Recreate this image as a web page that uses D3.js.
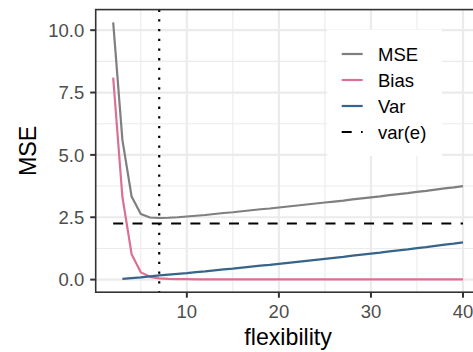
<!DOCTYPE html>
<html><head><meta charset="utf-8">
<script src="https://cdn.jsdelivr.net/npm/d3@7"></script>
<style>
body{margin:0;background:#fff}
text{font-family:"Liberation Sans",Arial,sans-serif}
</style>
</head><body>
<svg id="c" width="473" height="352"></svg>
<script>
const flexibility = [2,3,4,5,6,7,8,9,10,11,12,13,14,15,16,17,18,19,20,21,22,23,24,25,26,27,28,29,30,31,32,33,34,35,36,37,38,39,40];
const mse = [10.31,5.60,3.33,2.63,2.49,2.47,2.48,2.50,2.53,2.56,2.59,2.63,2.67,2.70,2.74,2.78,2.82,2.85,2.89,2.93,2.97,3.01,3.05,3.09,3.13,3.17,3.22,3.26,3.30,3.34,3.39,3.43,3.47,3.52,3.56,3.61,3.66,3.70,3.75];
const bias = [8.10,3.32,1.02,0.29,0.11,0.05,0.03,0.02,0.02,0.01,0.01,0.01,0.01,0.01,0.01,0.01,0.01,0.01,0.01,0.01,0.01,0.01,0.01,0.01,0.01,0.01,0.01,0.01,0.01,0.01,0.01,0.01,0.01,0.01,0.01,0.01,0.01,0.01,0.01];
const variance = [null,0.03,0.06,0.09,0.13,0.17,0.20,0.23,0.26,0.30,0.33,0.37,0.41,0.44,0.48,0.52,0.56,0.59,0.63,0.67,0.71,0.75,0.79,0.83,0.87,0.91,0.96,1.00,1.04,1.08,1.13,1.17,1.21,1.26,1.30,1.35,1.40,1.44,1.49];
const varE = 2.25;
const bestFlex = 7;
const xTicks = [10,20,30,40];
const xMinor = [5,15,25,35];
const yTicks = [0,2.5,5,7.5,10];
const yMinor = [1.25,3.75,6.25,8.75];
const yTickLabels = ["0.0","2.5","5.0","7.5","10.0"];
const seriesNames = ["MSE","Bias","Var","var(e)"];
const seriesColors = ["#7f7f7f","#DB7093","#36648B","#000000"];

const svg = d3.select("#c");
const P = {l:95.7, r:480.5, t:9.6, b:292.2};
const lw = 2.2;

const xExt = d3.extent(flexibility);
const xPad = (xExt[1]-xExt[0])*0.05;
const x = d3.scaleLinear().domain([xExt[0]-xPad, xExt[1]+xPad]).range([P.l, P.r]);
const allY = mse.concat(bias, variance.filter(v=>v!=null));
const yExt = d3.extent(allY);
const yPad = (yExt[1]-yExt[0])*0.05;
const y = d3.scaleLinear().domain([yExt[0]-yPad, yExt[1]+yPad]).range([P.b, P.t]);

svg.append("rect").attr("width",473).attr("height",352).attr("fill","#fff");
svg.append("defs").append("clipPath").attr("id","pc").append("rect")
  .attr("x",P.l).attr("y",P.t).attr("width",P.r-P.l).attr("height",P.b-P.t);

const g = svg.append("g").attr("clip-path","url(#pc)");
// grid
g.selectAll(".xm").data(xMinor).enter().append("line")
  .attr("x1",d=>x(d)).attr("x2",d=>x(d)).attr("y1",P.t).attr("y2",P.b)
  .attr("stroke","#ebebeb").attr("stroke-width",1.1);
g.selectAll(".ym").data(yMinor).enter().append("line")
  .attr("y1",d=>y(d)).attr("y2",d=>y(d)).attr("x1",P.l).attr("x2",P.r)
  .attr("stroke","#ebebeb").attr("stroke-width",1.1);
g.selectAll(".xM").data(xTicks).enter().append("line")
  .attr("x1",d=>x(d)).attr("x2",d=>x(d)).attr("y1",P.t).attr("y2",P.b)
  .attr("stroke","#ebebeb").attr("stroke-width",2.2);
g.selectAll(".yM").data(yTicks).enter().append("line")
  .attr("y1",d=>y(d)).attr("y2",d=>y(d)).attr("x1",P.l).attr("x2",P.r)
  .attr("stroke","#ebebeb").attr("stroke-width",2.2);

const series = [mse, bias, variance];
series.forEach((s,i)=>{
  const line = d3.line().defined((d,j)=>s[j]!=null).x((d,j)=>x(flexibility[j])).y((d,j)=>y(s[j]));
  g.append("path").datum(s).attr("d",line).attr("fill","none")
    .attr("stroke",seriesColors[i]).attr("stroke-width",lw).attr("stroke-linejoin","round");
});
// var(e) dashed
g.append("line").attr("x1",x(xExt[0])).attr("x2",x(xExt[1])).attr("y1",y(varE)).attr("y2",y(varE))
  .attr("stroke","#000").attr("stroke-width",lw).attr("stroke-dasharray","10 9.3");
// vertical dotted
g.append("line").attr("x1",x(bestFlex)).attr("x2",x(bestFlex)).attr("y1",P.t).attr("y2",P.b)
  .attr("stroke","#000").attr("stroke-width",lw).attr("stroke-dasharray","2.3 7.4");

// legend
const L = {x:327, y:29.5, w:115, h:126.5};
svg.append("rect").attr("x",L.x).attr("y",L.y).attr("width",L.w).attr("height",L.h).attr("fill","#fff");
seriesNames.forEach((n,i)=>{
  const cy = 54 + i*26;
  svg.append("line").attr("x1",341.7).attr("x2",362.7).attr("y1",cy).attr("y2",cy)
    .attr("stroke",seriesColors[i]).attr("stroke-width",lw)
    .attr("stroke-dasharray", i===3 ? "10 9.3" : null);
  svg.append("text").attr("x",378).attr("y",cy).attr("dy","0.36em")
    .attr("font-size",18.5).attr("fill","#000").text(n);
});

// border
svg.append("rect").attr("x",P.l).attr("y",P.t).attr("width",P.r-P.l).attr("height",P.b-P.t)
  .attr("fill","none").attr("stroke","#333").attr("stroke-width",1.6);

// ticks
svg.selectAll(".xt").data(xTicks).enter().append("line")
  .attr("x1",d=>x(d)).attr("x2",d=>x(d)).attr("y1",P.b).attr("y2",P.b+5.5)
  .attr("stroke","#333").attr("stroke-width",2);
svg.selectAll(".xl").data(xTicks).enter().append("text")
  .attr("x",d=>x(d)).attr("y",317.7).attr("text-anchor","middle")
  .attr("font-size",18.5).attr("fill","#4d4d4d").text(d=>d);
svg.selectAll(".yt").data(yTicks).enter().append("line")
  .attr("y1",d=>y(d)).attr("y2",d=>y(d)).attr("x1",P.l-5.5).attr("x2",P.l)
  .attr("stroke","#333").attr("stroke-width",2);
svg.selectAll(".yl").data(yTicks).enter().append("text")
  .attr("x",P.l-11.5).attr("y",d=>y(d)).attr("dy","0.36em").attr("text-anchor","end")
  .attr("font-size",18.5).attr("fill","#4d4d4d").text((d,i)=>yTickLabels[i]);

// titles
svg.append("text").attr("x",(P.l+P.r)/2).attr("y",345).attr("text-anchor","middle")
  .attr("font-size",23.2).attr("fill","#000").text("flexibility");
svg.append("text").attr("transform",`translate(35.5,${(P.t+P.b)/2}) rotate(-90)`)
  .attr("text-anchor","middle").attr("font-size",23.2).attr("fill","#000").text("MSE");
</script>
</body></html>
